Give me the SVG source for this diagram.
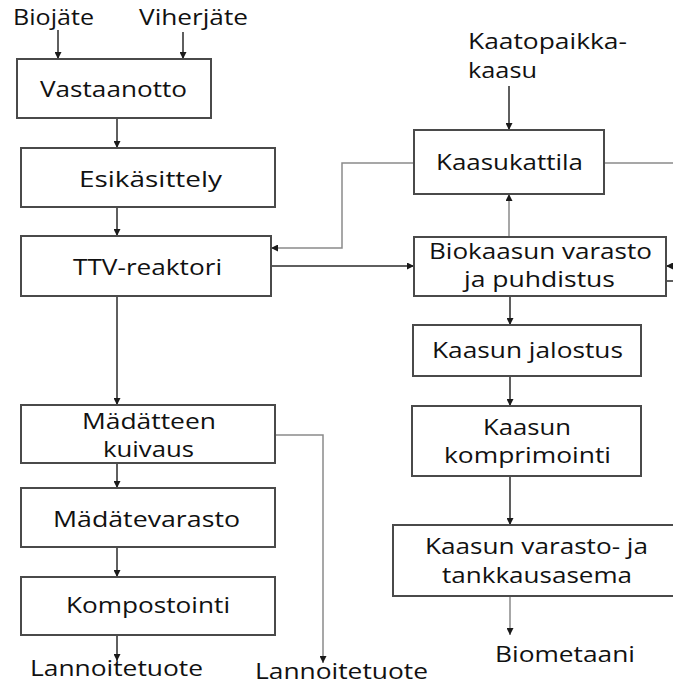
<svg xmlns="http://www.w3.org/2000/svg" width="673" height="685" viewBox="0 0 673 685">
<style>
.box{fill:#fff;stroke:#4a4a4a;stroke-width:2}
.t{font-family:"Open Sans","Noto Sans","Liberation Sans",sans-serif;font-size:21px;fill:#111}
.c{fill:none;stroke:#2a2a2a;stroke-width:1.5}
.g{fill:none;stroke:#8a8a8a;stroke-width:1.5}
</style>
<defs>
<marker id="ah" viewBox="0 0 10 10" refX="10" refY="5" markerWidth="7" markerHeight="7" markerUnits="userSpaceOnUse" orient="auto">
<path d="M0,0 L10,5 L0,10 z" fill="#1a1a1a"/>
</marker>
</defs>
<rect width="673" height="685" fill="#fff"/>
<g id="connectors">
<line class="c" x1="58" y1="30" x2="58" y2="59" marker-end="url(#ah)"/>
<line class="c" x1="183" y1="32" x2="183" y2="59" marker-end="url(#ah)"/>
<line class="c" x1="117" y1="118" x2="117" y2="148" marker-end="url(#ah)"/>
<line class="c" x1="117" y1="207" x2="117" y2="236" marker-end="url(#ah)"/>
<line class="c" x1="117" y1="296" x2="117" y2="405" marker-end="url(#ah)"/>
<line class="c" x1="117" y1="463" x2="117" y2="488" marker-end="url(#ah)"/>
<line class="c" x1="117" y1="547" x2="117" y2="577" marker-end="url(#ah)"/>
<line class="c" x1="117" y1="635" x2="117" y2="661" marker-end="url(#ah)"/>
<polyline class="g" points="275,435 323,435 323,663" marker-end="url(#ah)"/>
<line class="c" x1="271" y1="266" x2="414" y2="266" marker-end="url(#ah)"/>
<polyline class="g" points="414,163 342,163 342,248 271,248" marker-end="url(#ah)"/>
<line class="c" x1="509" y1="86" x2="509" y2="130" marker-end="url(#ah)"/>
<line class="g" x1="509" y1="237" x2="509" y2="194" marker-end="url(#ah)"/>
<line class="g" x1="604" y1="163" x2="673" y2="163"/>
<line class="c" x1="680" y1="266" x2="666" y2="266" marker-end="url(#ah)"/>
<line class="c" x1="666" y1="281" x2="673" y2="281"/>
<line class="c" x1="510" y1="296" x2="510" y2="325" marker-end="url(#ah)"/>
<line class="c" x1="510" y1="376" x2="510" y2="406" marker-end="url(#ah)"/>
<line class="c" x1="510" y1="476" x2="510" y2="525" marker-end="url(#ah)"/>
<line class="g" x1="510" y1="596" x2="510" y2="635" marker-end="url(#ah)"/>
</g>
<g id="labels">
<text class="t" x="13" y="25" textLength="81" lengthAdjust="spacingAndGlyphs">Biojäte</text>
<text class="t" x="139" y="25" textLength="109" lengthAdjust="spacingAndGlyphs">Viherjäte</text>
<text class="t" x="468" y="49" textLength="159" lengthAdjust="spacingAndGlyphs">Kaatopaikka-</text>
<text class="t" x="468" y="78" textLength="69" lengthAdjust="spacingAndGlyphs">kaasu</text>
<text class="t" x="30" y="676" textLength="173" lengthAdjust="spacingAndGlyphs">Lannoitetuote</text>
<text class="t" x="255" y="679" textLength="173" lengthAdjust="spacingAndGlyphs">Lannoitetuote</text>
<text class="t" x="495" y="662" textLength="140" lengthAdjust="spacingAndGlyphs">Biometaani</text>
</g>
<g id="vastaanotto">
<rect class="box" x="17" y="59" width="194" height="59"/>
<text class="t" x="40" y="97" textLength="147" lengthAdjust="spacingAndGlyphs">Vastaanotto</text>
</g>
<g id="esikasittely">
<rect class="box" x="21" y="148" width="254" height="59"/>
<text class="t" x="79" y="187" textLength="143" lengthAdjust="spacingAndGlyphs">Esikäsittely</text>
</g>
<g id="ttv-reaktori">
<rect class="box" x="21" y="236" width="250" height="60"/>
<text class="t" x="73" y="275" textLength="149" lengthAdjust="spacingAndGlyphs">TTV-reaktori</text>
</g>
<g id="madatteen-kuivaus">
<rect class="box" x="21" y="405" width="254" height="58"/>
<text class="t" x="82" y="429" textLength="134" lengthAdjust="spacingAndGlyphs">Mädätteen</text>
<text class="t" x="103" y="457" textLength="91" lengthAdjust="spacingAndGlyphs">kuivaus</text>
</g>
<g id="madatevarasto">
<rect class="box" x="21" y="488" width="254" height="59"/>
<text class="t" x="53" y="527" textLength="187" lengthAdjust="spacingAndGlyphs">Mädätevarasto</text>
</g>
<g id="kompostointi">
<rect class="box" x="21" y="577" width="254" height="58"/>
<text class="t" x="66" y="613" textLength="164" lengthAdjust="spacingAndGlyphs">Kompostointi</text>
</g>
<g id="kaasukattila">
<rect class="box" x="414" y="130" width="190" height="64"/>
<text class="t" x="436" y="170" textLength="147" lengthAdjust="spacingAndGlyphs">Kaasukattila</text>
</g>
<g id="biokaasun-varasto">
<rect class="box" x="414" y="237" width="252" height="59"/>
<text class="t" x="429" y="259" textLength="223" lengthAdjust="spacingAndGlyphs">Biokaasun varasto</text>
<text class="t" x="464" y="287" textLength="151" lengthAdjust="spacingAndGlyphs">ja puhdistus</text>
</g>
<g id="kaasun-jalostus">
<rect class="box" x="413" y="325" width="228" height="51"/>
<text class="t" x="432" y="358" textLength="191" lengthAdjust="spacingAndGlyphs">Kaasun jalostus</text>
</g>
<g id="kaasun-komprimointi">
<rect class="box" x="412" y="406" width="229" height="70"/>
<text class="t" x="483" y="435" textLength="88" lengthAdjust="spacingAndGlyphs">Kaasun</text>
<text class="t" x="444" y="463" textLength="167" lengthAdjust="spacingAndGlyphs">komprimointi</text>
</g>
<g id="kaasun-varasto-tankkausasema">
<rect class="box" x="393" y="525" width="287" height="71"/>
<text class="t" x="425" y="554" textLength="223" lengthAdjust="spacingAndGlyphs">Kaasun varasto- ja</text>
<text class="t" x="442" y="583" textLength="190" lengthAdjust="spacingAndGlyphs">tankkausasema</text>
</g>
</svg>
